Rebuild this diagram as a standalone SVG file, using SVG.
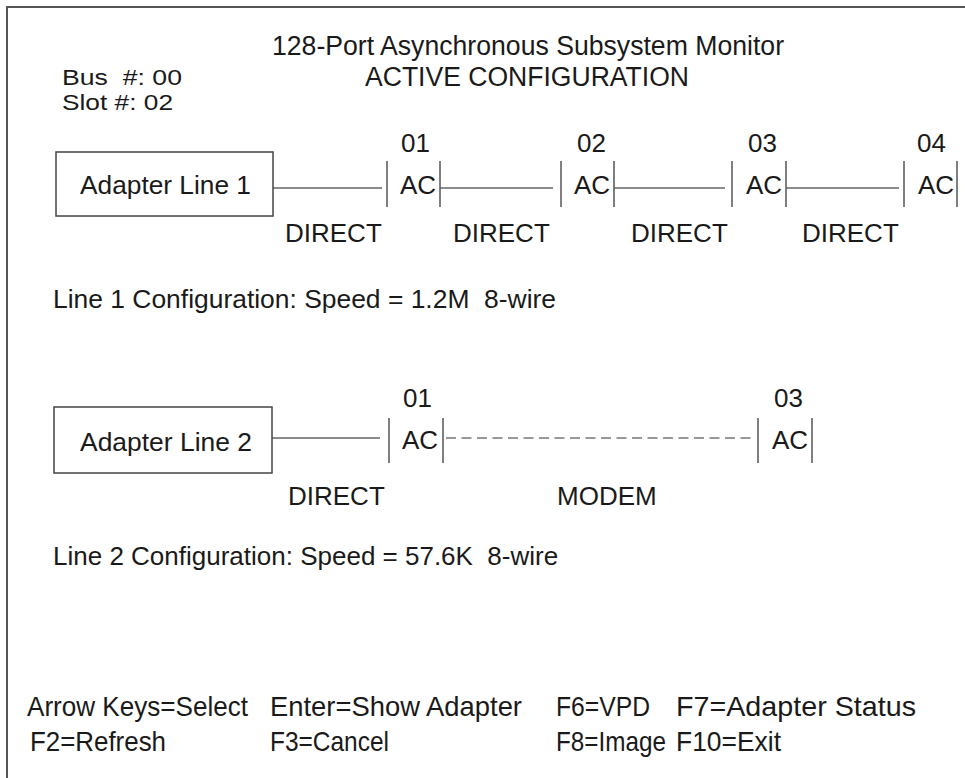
<svg xmlns="http://www.w3.org/2000/svg" width="965" height="778" viewBox="0 0 965 778">
<style>
text{font-family:"Liberation Sans",Arial,sans-serif;fill:#1a1a1a;white-space:pre}
.t{font-size:26px}
.h{font-size:27px}
.s{font-size:22px}
.k{font-size:28px}
.box{fill:none;stroke:#444;stroke-width:1.5}
.ln{stroke:#666;stroke-width:1.5;fill:none}
.dash{stroke:#777;stroke-width:1.5;fill:none;stroke-dasharray:10 5.5}
.bar{stroke:#555;stroke-width:1.5}
</style>
<rect width="965" height="778" fill="#fff"/>
<path d="M7 778V7H965" fill="none" stroke="#555" stroke-width="2"/>
<g id="header">
<text class="s" x="62" y="85" textLength="120" lengthAdjust="spacingAndGlyphs">Bus  #: 00</text>
<text class="s" x="62" y="110" textLength="111" lengthAdjust="spacingAndGlyphs">Slot #: 02</text>
<text class="h" x="272" y="55" textLength="512" lengthAdjust="spacingAndGlyphs">128-Port Asynchronous Subsystem Monitor</text>
<text class="h" x="365" y="86" textLength="324" lengthAdjust="spacingAndGlyphs">ACTIVE CONFIGURATION</text>
</g>
<g id="connectors">
<line class="ln" x1="273" y1="188" x2="382" y2="188"/>
<line class="ln" x1="440" y1="188" x2="553" y2="188"/>
<line class="ln" x1="614" y1="188" x2="725" y2="188"/>
<line class="ln" x1="786" y1="188" x2="899" y2="188"/>
<line class="ln" x1="272" y1="438" x2="380" y2="438"/>
<line class="dash" x1="446" y1="438" x2="752" y2="438"/>
<text class="t" x="285" y="242">DIRECT</text>
<text class="t" x="453" y="242">DIRECT</text>
<text class="t" x="631" y="242">DIRECT</text>
<text class="t" x="802" y="242">DIRECT</text>
<text class="t" x="288" y="505">DIRECT</text>
<text class="t" x="557" y="505">MODEM</text>
</g>
<g id="adapter-line-1">
<rect class="box" x="56" y="152" width="217" height="64"/>
<text class="t" x="80" y="194" textLength="171" lengthAdjust="spacingAndGlyphs">Adapter Line 1</text>
</g>
<g id="l1-ac01">
<line class="bar" x1="387" y1="161" x2="387" y2="207"/><line class="bar" x1="440" y1="161" x2="440" y2="207"/>
<text class="t" x="400" y="194">AC</text><text class="t" x="401" y="152">01</text>
</g>
<g id="l1-ac02">
<line class="bar" x1="561" y1="161" x2="561" y2="207"/><line class="bar" x1="614" y1="161" x2="614" y2="207"/>
<text class="t" x="574" y="194">AC</text><text class="t" x="577" y="152">02</text>
</g>
<g id="l1-ac03">
<line class="bar" x1="732" y1="161" x2="732" y2="207"/><line class="bar" x1="786" y1="161" x2="786" y2="207"/>
<text class="t" x="746" y="194">AC</text><text class="t" x="748" y="152">03</text>
</g>
<g id="l1-ac04">
<line class="bar" x1="904" y1="161" x2="904" y2="207"/><line class="bar" x1="957" y1="161" x2="957" y2="207"/>
<text class="t" x="918" y="194">AC</text><text class="t" x="917" y="152">04</text>
</g>
<text class="t" x="53" y="308" textLength="503" lengthAdjust="spacingAndGlyphs">Line 1 Configuration: Speed = 1.2M  8-wire</text>
<g id="adapter-line-2">
<rect class="box" x="54" y="407" width="218" height="66"/>
<text class="t" x="80" y="451" textLength="172" lengthAdjust="spacingAndGlyphs">Adapter Line 2</text>
</g>
<g id="l2-ac01">
<line class="bar" x1="389" y1="418" x2="389" y2="463"/><line class="bar" x1="443" y1="418" x2="443" y2="463"/>
<text class="t" x="402" y="449">AC</text><text class="t" x="403" y="407">01</text>
</g>
<g id="l2-ac03">
<line class="bar" x1="758" y1="418" x2="758" y2="463"/><line class="bar" x1="812" y1="418" x2="812" y2="463"/>
<text class="t" x="772" y="449">AC</text><text class="t" x="774" y="407">03</text>
</g>
<text class="t" x="53" y="565">Line 2 Configuration: Speed = 57.6K  8-wire</text>
<g id="keys">
<text class="k" x="27" y="716" textLength="221" lengthAdjust="spacingAndGlyphs">Arrow Keys=Select</text>
<text class="k" x="270" y="716" textLength="252" lengthAdjust="spacingAndGlyphs">Enter=Show Adapter</text>
<text class="k" x="556" y="716" textLength="94" lengthAdjust="spacingAndGlyphs">F6=VPD</text>
<text class="k" x="676" y="716" textLength="240" lengthAdjust="spacingAndGlyphs">F7=Adapter Status</text>
<text class="k" x="30" y="751" textLength="136" lengthAdjust="spacingAndGlyphs">F2=Refresh</text>
<text class="k" x="270" y="751" textLength="119" lengthAdjust="spacingAndGlyphs">F3=Cancel</text>
<text class="k" x="556" y="751" textLength="110" lengthAdjust="spacingAndGlyphs">F8=Image</text>
<text class="k" x="676" y="751" textLength="105" lengthAdjust="spacingAndGlyphs">F10=Exit</text>
</g>
</svg>
